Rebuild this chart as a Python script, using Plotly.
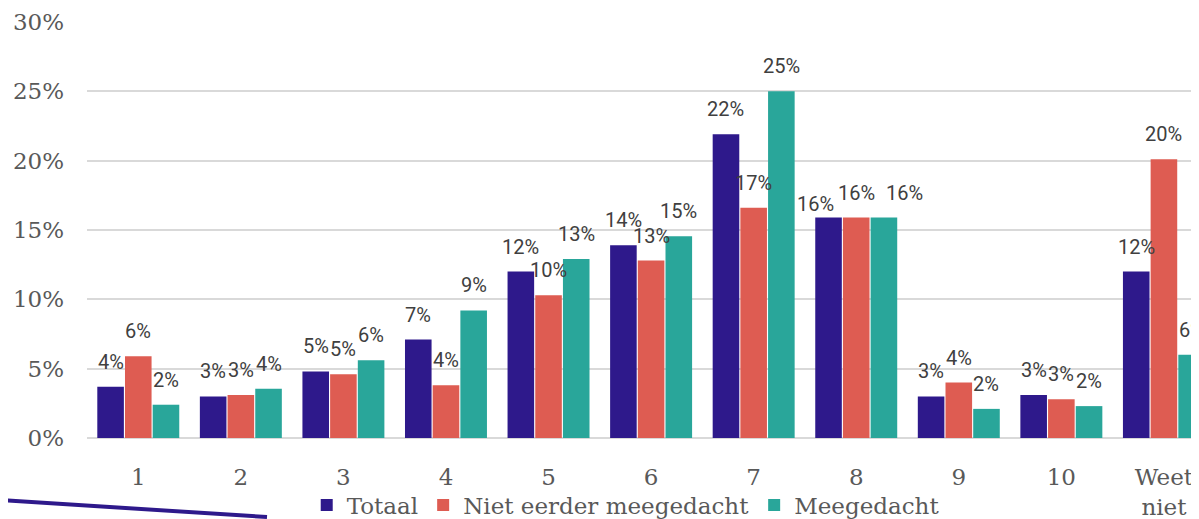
import plotly.graph_objects as go

categories = ["1", "2", "3", "4", "5", "6", "7", "8", "9", "10", "Weet<br>niet"]
totaal = [3.7, 3.0, 4.8, 7.1, 12.0, 13.9, 21.9, 15.9, 3.0, 3.1, 12.0]
niet_eerder = [5.9, 3.1, 4.6, 3.8, 10.3, 12.8, 16.6, 15.9, 4.0, 2.8, 20.1]
meegedacht = [2.4, 3.55, 5.6, 9.2, 12.9, 14.55, 25.0, 15.9, 2.1, 2.3, 6.0]

series = [
    ("Totaal", totaal, "rgb(46,25,139)"),
    ("Niet eerder meegedacht", niet_eerder, "rgb(222,92,82)"),
    ("Meegedacht", meegedacht, "rgb(41,166,154)"),
]

# label nudges (pixels) where the original spreads crowded labels apart
label_dx = {("8", 0): -13, ("8", 2): 21}
label_dy = {("8", 0): -11}

BARGAP = 0.19
CAT_PX = 102.6
SLOT_PX = CAT_PX * (1 - BARGAP) / 3

fig = go.Figure()
for name, vals, col in series:
    fig.add_trace(go.Bar(
        x=categories, y=vals, name=name,
        marker=dict(color=col, line=dict(width=0)),
        cliponaxis=True,
    ))

for i, (name, vals, col) in enumerate(series):
    for j, (cat, v) in enumerate(zip(categories, vals)):
        fig.add_annotation(
            x=j, y=v, xref="x", yref="y",
            text=f"{int(v + 0.5)}%", showarrow=False,
            yanchor="bottom", xanchor="center",
            xshift=(i - 1) * SLOT_PX + label_dx.get((cat, i), 0),
            yshift=11 + label_dy.get((cat, i), 0),
            font=dict(family="Roboto", size=20, color="#404040"),
        )

serif = "DejaVu Serif"
fig.update_layout(
    width=1199, height=519,
    margin=dict(l=79, r=0, t=14, b=89, autoexpand=False),
    paper_bgcolor="white", plot_bgcolor="white",
    barmode="group", bargap=BARGAP, bargroupgap=0.04,
    showlegend=True,
    legend=dict(orientation="h", x=0.481, xanchor="center", y=-0.161, yanchor="middle",
                bgcolor="rgba(0,0,0,0)",
                font=dict(family=serif, size=23, color="#595959"),
                itemwidth=30, traceorder="normal"),
    xaxis=dict(type="category", range=[-0.5, 10.42], showgrid=False, showline=False,
               zeroline=False, tickfont=dict(family=serif, size=23, color="#595959"),
               ticks="", ticklabelstandoff=23, automargin=False),
    yaxis=dict(range=[0, 30], tickvals=[0, 5, 10, 15, 20, 25, 30],
               ticktext=["0%", "5%", "10%", "15%", "20%", "25%", "30%"],
               showgrid=True, gridcolor="#d9d9d9", gridwidth=2,
               zeroline=True, zerolinecolor="#d9d9d9", zerolinewidth=2,
               showline=False, ticks="", ticklabelstandoff=22, automargin=False,
               tickfont=dict(family=serif, size=23, color="#595959")),
)

fig.add_shape(type="line", xref="paper", yref="paper",
              x0=-0.078, y0=-0.149, x1=0.1607, y1=-0.190,
              line=dict(color="rgb(46,25,139)", width=4), layer="above")

fig.write_html("out.html")
